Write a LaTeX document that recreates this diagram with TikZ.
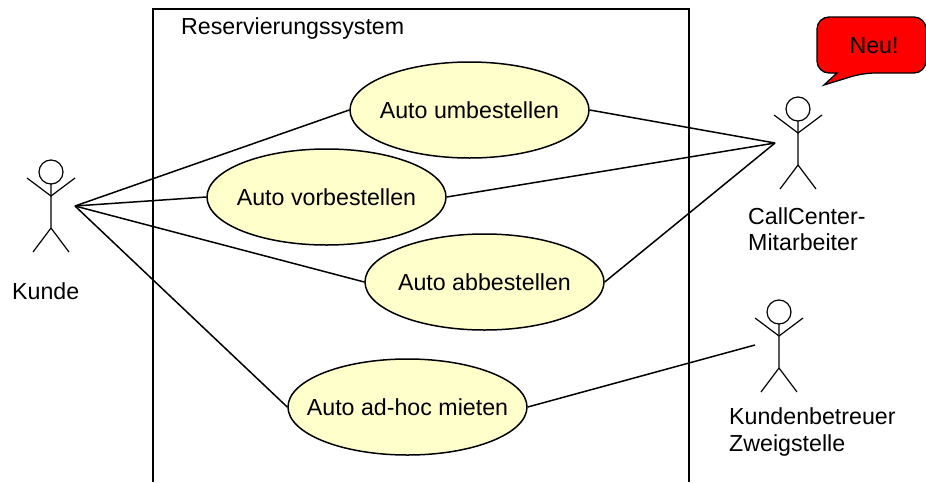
\documentclass[tikz,border=0pt]{standalone}
\usepackage{fontspec}
\setmainfont{Liberation Sans}
\newcommand{\casetext}[1]{\makebox[0pt]{#1}}
\definecolor{paleyellow}{RGB}{255,255,204}
\usetikzlibrary{shapes.geometric}
\tikzset{
  usecase/.style={draw, ellipse, fill=paleyellow, line width=1.5pt, minimum width=239pt, minimum height=96pt, inner sep=0pt},
  label/.style={anchor=west, inner sep=0pt, align=left},
  stickman/.pic={
    \draw [line width=1.2pt] (0,0) circle (12);
    \draw [line width=1.2pt] (0,12) -- (0,56) -- (-18,80);
    \draw [line width=1.2pt] (0,56) -- (18,80);
    \draw [line width=1.2pt] (-24,6) -- (0,24) -- (24,6);
  }
}
\begin{document}
\begin{tikzpicture}[x=1pt, y=-1pt, font=\fontsize{23.2}{26.5}\selectfont]
        \useasboundingbox (0,0) rectangle (926,482);
        \fill [white] (0,0) rectangle (926,482);

        \draw [line width=1.4pt] (153,482) -- (153,9) -- (689,9) -- (689,482);
        \node [label] (system) at (181,29) {Reservierungssystem};

        \pic at (51,172) {stickman};
        \pic at (798,109) {stickman};
        \pic at (779,312) {stickman};
        \coordinate (kunde) at (75,206);
        \coordinate (callcenter) at (775,143);
        \coordinate (betreuer) at (755,345);
        \node [label] (kundetext) at (12,291) {Kunde};
        \node [label] (callcentertext) at (748,229) {CallCenter-\\Mitarbeiter};
        \node [label] (betreuertext) at (729,432) {Kundenbetreuer\\Zweigstelle};

        \node [usecase] (umbestellen) at (469.5,110) {\casetext{Auto umbestellen}};
        \node [usecase] (vorbestellen) at (326.5,197) {\casetext{Auto vorbestellen}};
        \node [usecase] (abbestellen) at (484.5,282) {\casetext{Auto abbestellen}};
        \node [usecase] (adhoc) at (407.5,407) {\casetext{Auto ad-hoc mieten}};

        \draw [line width=1.5pt] (kunde) -- (umbestellen.west);
        \draw [line width=1.5pt] (kunde) -- (vorbestellen.west);
        \draw [line width=1.5pt] (kunde) -- (abbestellen.west);
        \draw [line width=1.5pt] (kunde) -- (adhoc.west);
        \draw [line width=1.5pt] (umbestellen.east) -- (callcenter);
        \draw [line width=1.5pt] (vorbestellen.east) -- (callcenter);
        \draw [line width=1.5pt] (abbestellen.east) -- (callcenter);
        \draw [line width=1.5pt] (adhoc.east) -- (betreuer);

        \draw [fill=red, line width=1.3pt, rounded corners=12pt] (837,73) -- (817,73) -- (817,17) -- (926,17) -- (926,73) -- (863,73) [sharp corners] -- (824,85) -- cycle;
        \node [inner sep=0pt] (neu) at (874,46) {Neu!};
      \end{tikzpicture}
\end{document}
